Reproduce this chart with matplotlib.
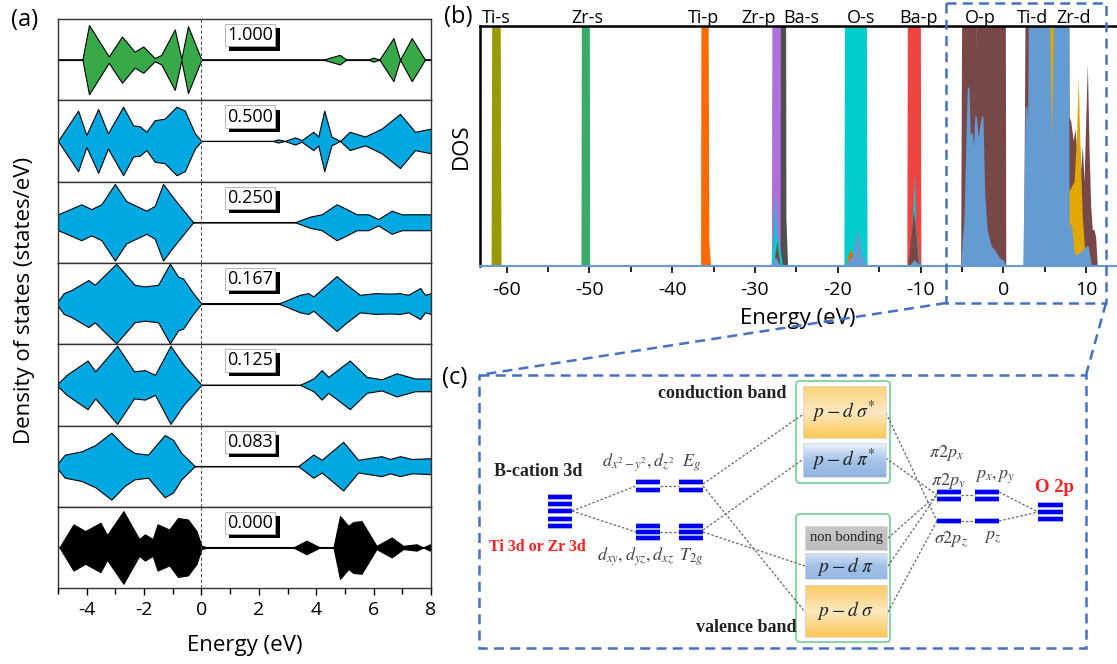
import numpy as np
import matplotlib.pyplot as plt
from matplotlib import patheffects
from matplotlib.colors import to_rgb
from matplotlib.patches import Rectangle, FancyBboxPatch
from matplotlib.ticker import MultipleLocator

plt.rcParams['font.family'] = ['Open Sans', 'DejaVu Sans']
plt.rcParams['mathtext.fontset'] = 'stix'
plt.rcParams['axes.unicode_minus'] = False

# ---------------- panel (a): DOS for each composition ----------------
row_labels = ['1.000', '0.500', '0.250', '0.167', '0.125', '0.083', '0.000']
row_colors = ['#38a848', '#00a8e1', '#00a8e1', '#00a8e1', '#00a8e1', '#00a8e1', '#000000']

e_1000 = [-5, -4.15, -3.92, -3.23, -2.77, -2.33, -2.03, -1.63, -1.4, -0.93, -0.7, -0.47, 0,
          4.24, 4.82, 5.05, 5.8, 6.0, 6.2, 6.69, 6.92, 7.33, 7.79, 8]
v_1000 = [0, 0, 0.87, 0.08, 0.58, 0.2, 0.33, 0.04, 0.12, 0.76, 0.02, 0.84, 0,
          0, 0.12, 0, 0, 0.05, 0, 0.54, 0, 0.54, 0, 0]
e_0500 = [-5, -4.3, -4.01, -3.6, -3.26, -2.73, -2.38, -2.15, -1.92, -1.63, -1.28, -0.87, -0.58, -0.23, 0,
          2.5, 2.67, 2.9, 3.26, 3.49, 3.9, 4.07, 4.28, 4.53, 4.83, 5.17, 5.7, 6.28, 6.92, 7.44, 8]
v_0500 = [0, 0.76, 0.15, 0.80, 0.19, 0.86, 0.39, 0.37, 0.23, 0.52, 0.56, 0.86, 0.76, 0.19, 0,
          0, 0.04, 0, 0.09, 0.02, 0.23, 0.11, 0.76, 0.11, 0.0, 0.23, 0.11, 0.31, 0.68, 0.23, 0.31]
e_0250 = [-5, -4.7, -4.19, -3.84, -3.49, -3.02, -2.62, -1.92, -1.63, -1.34, -0.93, -0.29,
          3.26, 3.78, 4.19, 4.71, 5.06, 5.41, 5.81, 6.16, 6.63, 6.98, 7.56, 8]
v_0250 = [0.2, 0.29, 0.45, 0.33, 0.45, 0.96, 0.53, 0.29, 0.41, 0.96, 0.57, 0,
          0, 0.14, 0.2, 0.45, 0.33, 0.2, 0.2, 0.08, 0.29, 0.2, 0.2, 0.2]
e_0167 = [-5, -4.8, -4.53, -3.94, -3.72, -2.97, -2.33, -1.98, -1.51, -1.1, -0.81, -0.64, -0.29, 0,
          2.67, 2.9, 3.43, 3.72, 3.9, 4.71, 5.0, 5.52, 6.05, 6.57, 6.92, 7.21, 7.62, 7.79, 8]
v_0167 = [0.06, 0.26, 0.34, 0.59, 0.47, 1.0, 0.47, 0.43, 0.47, 1.0, 0.67, 0.63, 0.26, 0,
          0, 0.06, 0.22, 0.26, 0.18, 0.69, 0.51, 0.22, 0.26, 0.25, 0.26, 0.22, 0.39, 0.22, 0.26]
e_0125 = [-5, -4.7, -3.97, -3.7, -2.94, -2.35, -1.97, -1.62, -1.08, -0.61, 0,
          3.43, 3.9, 4.19, 4.42, 5.17, 5.76, 6.28, 6.8, 7.44, 8]
v_0125 = [0.04, 0.25, 0.61, 0.34, 0.98, 0.34, 0.37, 0.25, 0.98, 0.49, 0,
          0, 0.16, 0.37, 0.2, 0.61, 0.2, 0.14, 0.29, 0.16, 0.16]
e_0083 = [-5, -4.76, -4.19, -3.7, -3.14, -2.67, -2.33, -1.86, -1.63, -1.28, -0.99, -0.7, -0.23,
          3.37, 3.9, 4.19, 4.94, 5.46, 6.28, 6.57, 6.92, 7.33, 8]
v_0083 = [0.08, 0.29, 0.37, 0.53, 0.84, 0.49, 0.33, 0.29, 0.49, 0.78, 0.66, 0.33, 0,
          0, 0.29, 0.16, 0.61, 0.16, 0.25, 0.18, 0.25, 0.18, 0.2]
e_0000 = [-4.95, -4.46, -4.05, -3.52, -3.29, -2.72, -2.17, -1.97, -1.7, -1.53, -1.12, -0.82, -0.47, -0.17, 0.0, 0.23,
          3.2, 3.66, 4.13, 4.6, 4.83, 5.12, 5.29, 5.58, 6.1, 6.63, 7.03, 7.5, 7.73, 7.96, 8]
v_0000 = [0, 0.58, 0.41, 0.62, 0.31, 0.91, 0.21, 0.33, 0.21, 0.58, 0.45, 0.74, 0.7, 0.41, 0.04, 0,
          0, 0.17, 0, 0, 0.79, 0.54, 0.64, 0.66, 0.04, 0.25, 0.04, 0.08, 0, 0.08, 0.04]

rows_e = [e_1000, e_0500, e_0250, e_0167, e_0125, e_0083, e_0000]
rows_v = [v_1000, v_0500, v_0250, v_0167, v_0125, v_0083, v_0000]

# ---------------- panel (b): projected DOS over the full range ----------------
ti_s_e = [-61.8, -61.6, -60.9, -60.6]
ti_s_v = [0, 3, 3, 0]
zr_s_e = [-50.95, -50.8, -50.0, -49.9]
zr_s_v = [0, 3, 3, 0]
zr_p_e = [-27.95, -27.8, -26.9, -26.8]
zr_p_v = [0, 3, 3, 0]
ba_s_e = [-26.9, -26.8, -26.3, -26.2, -26.0]
ba_s_v = [0, 3, 3, 0.2, 0]
ba_p_e = [-11.6, -11.4, -10.1, -9.9]
ba_p_v = [0, 3, 3, 0]
o_s_e = [-28.0, -27.7, -27.5, -27.3, -27.0, -26.6, -19.2, -19.0, -16.6, -16.4,
         -11.4, -10.9, -10.7, -10.5, -10.1]
o_s_v = [0, 0.15, 0.30, 0.12, 0.08, 0, 0, 3, 3, 0, 0, 0.2, 0.39, 0.15, 0]
o_p_e = [-27.7, -27.3, -26.9, -11.5, -10.8, -10.6, -10.2, -5.1, -4.75, -3.45, -3.3, -3.15, 0.2, 0.35,
         2.5, 3.0, 7.7, 7.85, 8.0, 8.2, 8.5, 8.7, 9.0, 9.2, 9.4, 9.6, 9.8, 10.0, 10.2, 10.4, 10.6, 10.8,
         11.0, 11.2, 11.4]
o_p_v = [0, 0.1, 0, 0, 0.22, 0.18, 0, 0, 3, 3, 0.9, 3, 3, 0,
         0, 3, 3, 3, 0.62, 0.6, 0.52, 0.57, 0.45, 0.55, 0.4, 0.5, 0.35, 0.6, 0.84, 0.5, 0.25, 0.15,
         0.15, 0.12, 0]
ti_p_e = [-36.5, -36.4, -35.8, -35.5, -35.3, -19.0, -18.4, -17.8, -1.6, -1.2, -0.8]
ti_p_v = [0, 3, 3, 0.1, 0, 0, 0.07, 0, 0, 0.07, 0]
ti_d_e = [3.0, 3.3, 7.6, 7.8, 8.6, 8.9, 9.1, 9.3, 9.6, 10.0]
ti_d_v = [0, 3, 3, 0.3, 0.35, 0.55, 0.79, 0.5, 0.2, 0]
zr_d_e = [-63.2, -28.0, -27.5, -27.0, -19.0, -18.0, -17.6, -17.2, -16.6, -11.2, -10.7, -10.2,
          -5.0, -4.6, -4.2, -4.0, -3.8, -3.5, -3.3, -3.0, -2.7, -2.5, -2.3, -2.0, -1.5, -1.0, -0.5, 0.0, 0.2,
          2.5, 2.8, 3.1, 3.4, 5.5, 5.55, 5.9, 6.2, 6.25, 7.7, 7.9, 8.2, 8.5, 9.0, 9.6, 10.2, 10.6, 13.6]
zr_d_v = [0, 0, 0.03, 0, 0, 0.04, 0.14, 0.05, 0, 0, 0.02, 0,
          0, 0.2, 0.74, 0.5, 0.55, 0.45, 0.62, 0.5, 0.58, 0.62, 0.3, 0.15, 0.08, 0.06, 0.03, 0.02, 0,
          0, 0.66, 0.45, 3, 3, 1.0, 0.29, 1.0, 3, 3, 0.05, 0.17, 0.05, 0.04, 0.06, 0.08, 0, 0]

peak_names = ['Ti-s', 'Zr-s', 'Ti-p', 'Zr-p', 'Ba-s', 'O-s', 'Ba-p', 'O-p', 'Ti-d', 'Zr-d']
peak_pos = [-61.2, -50.2, -36.2, -29.5, -24.4, -17.2, -10.2, -2.8, 3.5, 8.5]

W, H = 1117, 664
fig = plt.figure(figsize=(W / 100, H / 100), dpi=100)


def px_axes(x0, y0, x1, y1):
    return fig.add_axes([x0 / W, 1 - y1 / H, (x1 - x0) / W, (y1 - y0) / H])


# ---- (a)
row_top, row_h = 19, 81.3
for i in range(7):
    ax = px_axes(58, row_top + i * row_h, 431, row_top + (i + 1) * row_h)
    e = np.array(rows_e[i])
    v = np.array(rows_v[i])
    ax.fill_between(e, -v, v, facecolor=row_colors[i], edgecolor='k', lw=0.8, zorder=2)
    ax.axhline(0, color='k', lw=0.8, zorder=1)
    ax.axvline(0, color='#555555', lw=0.8, ls=(0, (3, 2)), zorder=3)
    ax.set_xlim(-5, 8)
    ax.set_ylim(-1.02, 1.02)
    ax.set_yticks([])
    ax.xaxis.set_major_locator(MultipleLocator(2))
    ax.xaxis.set_minor_locator(MultipleLocator(1))
    for s in ax.spines.values():
        s.set_linewidth(1.0)
        s.set_color('#333333')
    if i < 6:
        ax.tick_params(which='both', bottom=False, labelbottom=False)
    else:
        ax.tick_params(which='major', length=5, width=1, labelsize=14, pad=4)
        ax.tick_params(which='minor', length=4, width=1)
    t = ax.text(1.7, 0.8, row_labels[i], transform=ax.get_xaxis_transform(),
                ha='center', va='center', fontsize=13, zorder=5,
                bbox=dict(boxstyle='square,pad=0.12', fc='white', ec='#aaaaaa', lw=0.6))
    t.get_bbox_patch().set_path_effects([
        patheffects.withSimplePatchShadow(offset=(3, -3), shadow_rgbFace='k', alpha=1.0)])

fig.text(25 / W, 1 - 300 / H, 'Density of states (states/eV)', rotation=90,
         ha='center', va='center', fontsize=16)
fig.text(245 / W, 1 - 645 / H, 'Energy (eV)', ha='center', va='center', fontsize=16)
fig.text(25 / W, 1 - 20 / H, '(a)', ha='center', va='center', fontsize=17)

# ---- (b)
axb = px_axes(480, 26, 1116, 266)
blue = '#649bd2'
layers = [
    (ti_s_e, ti_s_v, '#999900'),
    (zr_s_e, zr_s_v, '#3aaa6a'),
    (zr_p_e, zr_p_v, '#b070dc'),
    (ba_s_e, ba_s_v, '#505050'),
    (ba_p_e, ba_p_v, '#f04444'),
    (o_s_e, o_s_v, '#00cccc'),
    (o_p_e, o_p_v, '#784848'),
    (ti_p_e, ti_p_v, '#ff6a00'),
    (ti_d_e, ti_d_v, '#e0a800'),
    (zr_d_e, zr_d_v, blue),
]
for e, v, c in layers:
    axb.fill_between(e, 0, v, color=c, lw=0)
axb.plot(zr_d_e, zr_d_v, color=blue, lw=1.2)
axb.set_xlim(-63.2, 13.6)
axb.set_ylim(0, 1)
axb.set_yticks([])
axb.xaxis.set_major_locator(MultipleLocator(10))
axb.xaxis.set_minor_locator(MultipleLocator(5))
axb.tick_params(which='major', length=5, width=1.2, labelsize=14, pad=6)
axb.tick_params(which='minor', length=4, width=1.2)
axb.spines['right'].set_visible(False)
axb.spines['top'].set_linewidth(1.8)
axb.spines['left'].set_linewidth(1.8)
axb.spines['bottom'].set_color(blue)
axb.spines['bottom'].set_linewidth(1.5)
axb.set_xlabel('Energy (eV)', fontsize=16, labelpad=6)
axb.set_ylabel('DOS', fontsize=16, labelpad=6)
for name, pos in zip(peak_names, peak_pos):
    axb.text(pos, 1.012, name, transform=axb.get_xaxis_transform(),
             ha='center', va='baseline', fontsize=13)
fig.text(458 / W, 1 - 17 / H, '(b)', ha='center', va='center', fontsize=17)

# ---- (c) schematic and zoom frame, drawn in pixel coordinates
ov = fig.add_axes([0, 0, 1, 1])
ov.axis('off')
dash_blue = '#4472c4'
frame = dict(fill=False, ec=dash_blue, lw=1.8, ls=(0, (4, 2.5)))
ov.add_patch(Rectangle((946, 3), 160, 300, **frame))
ov.add_patch(Rectangle((479, 375), 607, 273, **frame))
ov.plot([946, 479], [303, 375], color=dash_blue, lw=1.8, ls=(0, (4, 2.5)))
ov.plot([1106, 1086], [303, 375], color=dash_blue, lw=1.8, ls=(0, (4, 2.5)))
fig.text(455 / W, 1 - 378 / H, '(c)', ha='center', va='center', fontsize=17)

# green outlined groups
for (x0, y0, x1, y1) in [(796, 381, 890, 483), (796, 514, 890, 642)]:
    ov.add_patch(FancyBboxPatch((x0, y0), x1 - x0, y1 - y0,
                                boxstyle='round,pad=0,rounding_size=4',
                                fc='white', ec='#80d0a0', lw=1.3, zorder=1))


def grad_box(x0, y0, x1, y1, stops):
    n = 60
    g = np.linspace(0, 1, n)
    pos = np.linspace(0, 1, len(stops))
    cols = np.array([to_rgb(c) for c in stops])
    img = np.stack([np.interp(g, pos, cols[:, k]) for k in range(3)], axis=1)[:, None, :]
    ov.imshow(img, extent=[x0, x1, y1, y0], aspect='auto', zorder=2, interpolation='bilinear')
    ov.add_patch(Rectangle((x0, y0), x1 - x0, y1 - y0, fill=False, ec='#d8d8d8', lw=0.6, zorder=3))


grad_box(803, 386, 886, 438, ['#fbd27a', '#fde8c0', '#fbc957'])
grad_box(803, 443, 886, 477, ['#eaf1f9', '#a8c5ea', '#8fb3e0'])
grad_box(805, 526, 887, 550, ['#c8c8c8', '#bdbdbd'])
grad_box(805, 553, 887, 579, ['#d4e3f5', '#a3c1e8', '#95b8e4'])
grad_box(805, 585, 887, 637, ['#fbcb66', '#fde8c0', '#fbc957'])

math_kw = dict(ha='center', va='center', fontsize=14, color='#222222', zorder=4)
ov.text(844, 412, r'$p-d\ \sigma^{*}$', **math_kw)
ov.text(844, 460, r'$p-d\ \pi^{*}$', **math_kw)
ov.text(846, 566, r'$p-d\ \pi$', **math_kw)
ov.text(846, 611, r'$p-d\ \sigma$', **math_kw)
ov.text(846, 538, 'non bonding', ha='center', va='center', fontsize=10.5,
        family='Liberation Serif', color='#222222', zorder=4)

serif_b = dict(ha='center', va='center', family='Liberation Serif', fontweight='bold')
ov.text(722, 394, 'conduction band', fontsize=13, color='#222222', **serif_b)
ov.text(746, 627, 'valence band', fontsize=13, color='#222222', **serif_b)
ov.text(538, 472, 'B-cation 3d', fontsize=13, color='#222222', **serif_b)
ov.text(537, 547, 'Ti 3d or Zr 3d', fontsize=11.5, color='#ff2020', **serif_b)
ov.text(1054, 487, 'O 2p', fontsize=13.5, color='#ff2020', **serif_b)

orb = dict(ha='center', va='center', fontsize=13, color='#444444')
ov.text(638, 463, r'$d_{x^2-y^2},d_{z^2}$', **orb)
ov.text(691, 463, r'$E_g$', **orb)
ov.text(635, 557, r'$d_{xy},d_{yz},d_{xz}$', **orb)
ov.text(691, 557, r'$T_{2g}$', **orb)
ov.text(946, 453, r'$\pi 2p_x$', **orb)
ov.text(948, 482, r'$\pi 2p_y$', **orb)
ov.text(995, 477, r'$p_x,p_y$', **orb)
ov.text(951, 540, r'$\sigma 2p_z$', **orb)
ov.text(993, 537, r'$p_z$', **orb)

dot = dict(color='#666666', lw=0.9, ls=(0, (2, 1.5)), zorder=1.5)
links = [((572, 511), (636, 486)), ((572, 511), (636, 532)),
         ((660, 486), (679, 486)), ((660, 532), (679, 532)),
         ((703, 484), (805, 413)), ((703, 486), (805, 612)),
         ((703, 530), (805, 458)), ((703, 532), (805, 566)),
         ((886, 413), (937, 521)), ((886, 458), (937, 495)),
         ((888, 538), (937, 495)), ((888, 566), (937, 495)),
         ((888, 612), (937, 521)),
         ((961, 495), (975, 495)), ((961, 521), (975, 521)),
         ((999, 492), (1038, 512)), ((999, 521), (1038, 512))]
for (xa, ya), (xb, yb) in links:
    ov.plot([xa, xb], [ya, yb], **dot)

levels = [(548, 572, [497, 504, 511, 519, 526]),
          (636, 660, [482, 490]), (679, 703, [482, 490]),
          (636, 660, [526, 532, 538]), (679, 703, [526, 532, 538]),
          (937, 961, [492, 499]), (975, 999, [492, 499]),
          (937, 961, [521]), (975, 999, [521]),
          (1038, 1063, [505, 512, 519])]
for x0, x1, ys in levels:
    for y in ys:
        ov.plot([x0, x1], [y, y], color='#a8b4ff', lw=4.2, solid_capstyle='butt', zorder=5)
        ov.plot([x0, x1], [y, y], color='#0000f0', lw=3.0, solid_capstyle='butt', zorder=6)

ov.set_xlim(0, W)
ov.set_ylim(H, 0)

fig.savefig('out.png', dpi=100)
